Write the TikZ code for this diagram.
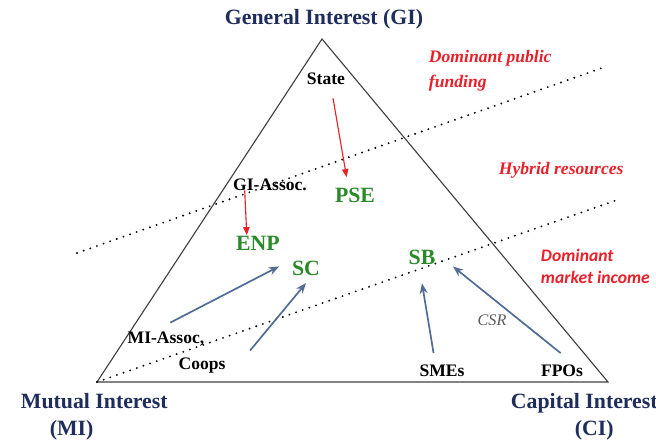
\documentclass[tikz,border=0pt]{standalone}
\usepackage{fontspec}
\setmainfont{Liberation Serif}
\newfontfamily\calfont{Carlito}
\usetikzlibrary{arrows.meta,positioning}
\definecolor{navy}{HTML}{1F2D5C}
\definecolor{sgreen}{HTML}{2A8A2A}
\definecolor{sblue}{HTML}{4F6B96}
\definecolor{sred}{HTML}{E8202A}

\begin{document}
\begin{tikzpicture}[
    corner/.style={font=\bfseries\fontsize{15.5}{19}\selectfont, text=navy, align=left},
    actor/.style={font=\bfseries\fontsize{12.5}{14}\selectfont},
    org/.style={font=\bfseries\fontsize{15.5}{17}\selectfont, text=sgreen},
    note/.style={font=\bfseries\itshape\fontsize{12.5}{18}\selectfont, text=sred, align=left, anchor=west},
    redarrow/.style={-{Triangle[length=2mm,width=1.6mm]}, sred, line width=0.8pt},
    bluearrow/.style={-{Stealth[length=2.6mm,width=2mm]}, sblue, line width=1.2pt},
    sep/.style={line width=1.5pt, line cap=round, dash pattern=on 0pt off 5pt}
]
    \useasboundingbox (0,0) rectangle (16.4,11.025);

    % Triangle corners
    \coordinate (gi) at (8.05,10.05);
    \coordinate (mi) at (2.425,1.475);
    \coordinate (ci) at (15.2,1.475);
    \draw[line width=0.8pt, black!75] (gi) -- (mi) -- (ci) -- cycle;

    % Corner labels
    \node[corner, align=center] (gilabel) at (8.1,10.55) {General Interest (GI)};
    \node[corner, anchor=west] (milabel) at (0.4,0.6) {Mutual Interest\\\hspace*{0.72cm}(MI)};
    \node[corner, anchor=west] (cilabel) at (12.65,0.6) {Capital Interest\\\hspace*{1.6cm}(CI)};

    % Dotted separators
    \coordinate (upl) at (1.925,4.7);
    \coordinate (upr) at (15.05,9.325);
    \coordinate (lor) at (15.425,6.025);
    \draw[sep] (upl) -- (upr);
    \draw[sep] (mi) -- (lor);

    % Resource zones
    \node[note] (public) at (10.6,9.25) {Dominant public\\funding};
    \node[note] (hybrid) at (12.35,6.775) {Hybrid resources};
    \node[note, font=\calfont\bfseries\itshape\fontsize{12.5}{16}\selectfont] (market) at (13.4,4.36) {Dominant\\market income};

    % Actors
    \node[actor] (state) at (8.15,9.05) {State};
    \node[actor] (giassoc) at (6.75,6.4) {GI-Assoc.};
    \node[actor] (miassoc) at (4.15,2.55) {MI-Assoc,};
    \node[actor] (coops) at (5.05,1.875) {Coops};
    \node[actor] (smes) at (11.05,1.75) {SMEs};
    \node[actor] (fpos) at (14.05,1.75) {FPOs};

    % Organisations
    \node[org] (pse) at (8.875,6.15) {PSE};
    \node[org] (enp) at (6.45,4.95) {ENP};
    \node[org] (sc) at (7.65,4.325) {SC};
    \node[org] (sb) at (10.55,4.6) {SB};

    % Arrows
    \draw[redarrow] ([xshift=5pt,yshift=-6pt]state.south) -- ([xshift=-6pt,yshift=4pt]pse.north);
    \draw[redarrow] ([xshift=-18pt,yshift=4pt]giassoc.south) -- ([xshift=-8pt,yshift=-3pt]enp.north);
    \draw[bluearrow] ([xshift=3pt,yshift=3pt]miassoc.north) -- ([xshift=-4pt,yshift=-8pt]enp.south east);
    \draw[bluearrow] ([xshift=14pt,yshift=2pt]coops.north east) -- ([yshift=-2pt]sc.south);
    \draw[bluearrow] ([xshift=-6pt,yshift=5pt]smes.north) -- ([xshift=0pt,yshift=-10pt]sb.south);
    \draw[bluearrow] ([xshift=-1pt,yshift=5pt]fpos.north) -- ([xshift=9pt,yshift=2pt]sb.south east);
    \node[font=\itshape\fontsize{11.5}{13}\selectfont, text=black!65] (csr) at (12.3,3.025) {CSR};
\end{tikzpicture}
\end{document}
